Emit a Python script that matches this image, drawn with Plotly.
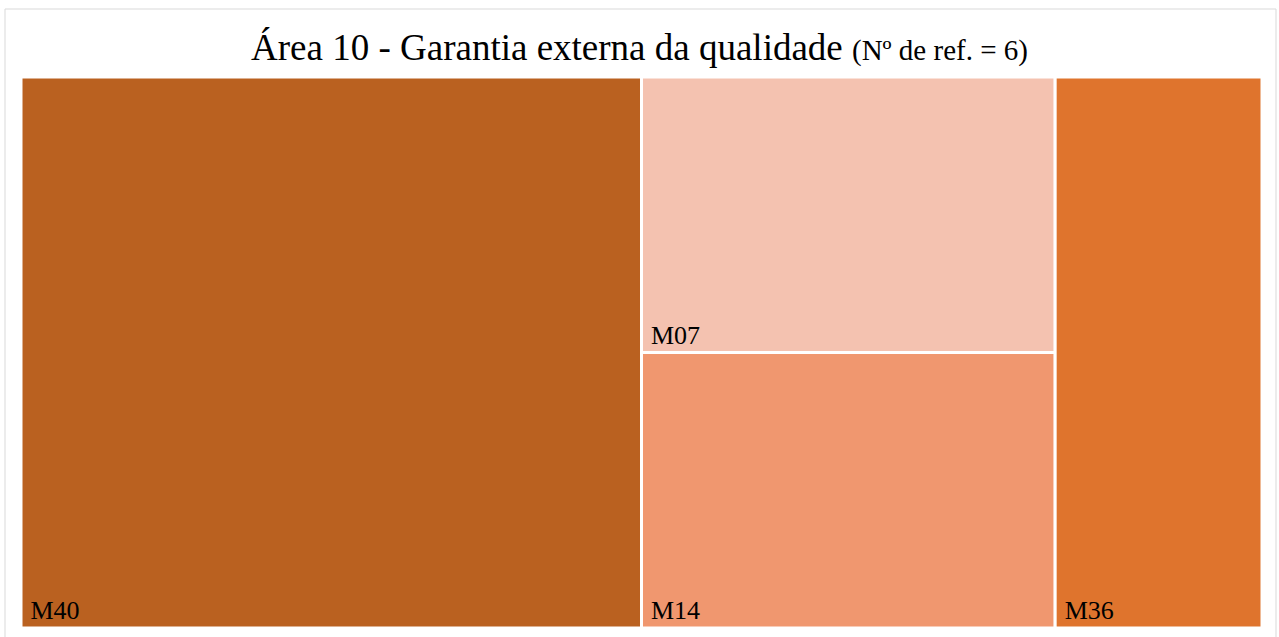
import plotly.graph_objects as go

W, H = 1279, 637

labels = ["M40", "M07", "M14", "M36"]
parents = ["", "", "", ""]
values = [3, 1, 1, 1]
colors = ["#BA6120", "#F4C2B0", "#F0976F", "#DF742D"]

title_main = "Área 10 - Garantia externa da qualidade"
title_sub = "(Nº de ref. = 6)"

fig = go.Figure(go.Treemap(
    labels=labels,
    parents=parents,
    values=values,
    sort=True,
    marker=dict(colors=colors, line=dict(color="white", width=3),
                pad=dict(t=0, l=0, r=0, b=0)),
    texttemplate="\u00a0%{label}",
    textposition="bottom left",
    textfont=dict(family="Liberation Serif", size=26, color="black"),
    tiling=dict(packing="squarify", pad=0),
    pathbar=dict(visible=False),
    hoverinfo="label+value",
    domain=dict(x=[21 / W, 1262 / W], y=[1 - 628 / H, 1 - 77 / H]),
))

fig.update_layout(
    width=W, height=H,
    margin=dict(l=0, r=0, t=0, b=0),
    paper_bgcolor="white",
    font=dict(family="Liberation Serif", color="black"),
    title=dict(
        text=f"{title_main} <span style='font-size:29px'>{title_sub}</span>",
        font=dict(size=37, family="Liberation Serif", color="black"),
        x=0.5, xanchor="center", y=1 - 47 / H, yanchor="middle",
    ),
    shapes=[dict(type="rect", xref="paper", yref="paper",
                 x0=5 / W, x1=1276 / W, y0=-0.01, y1=1 - 9 / H,
                 line=dict(color="#D9D9D9", width=1))],
)

fig.write_html("out.html", config={"displayModeBar": False},
               post_script="document.body.style.margin='0';document.body.style.overflow='hidden';")
